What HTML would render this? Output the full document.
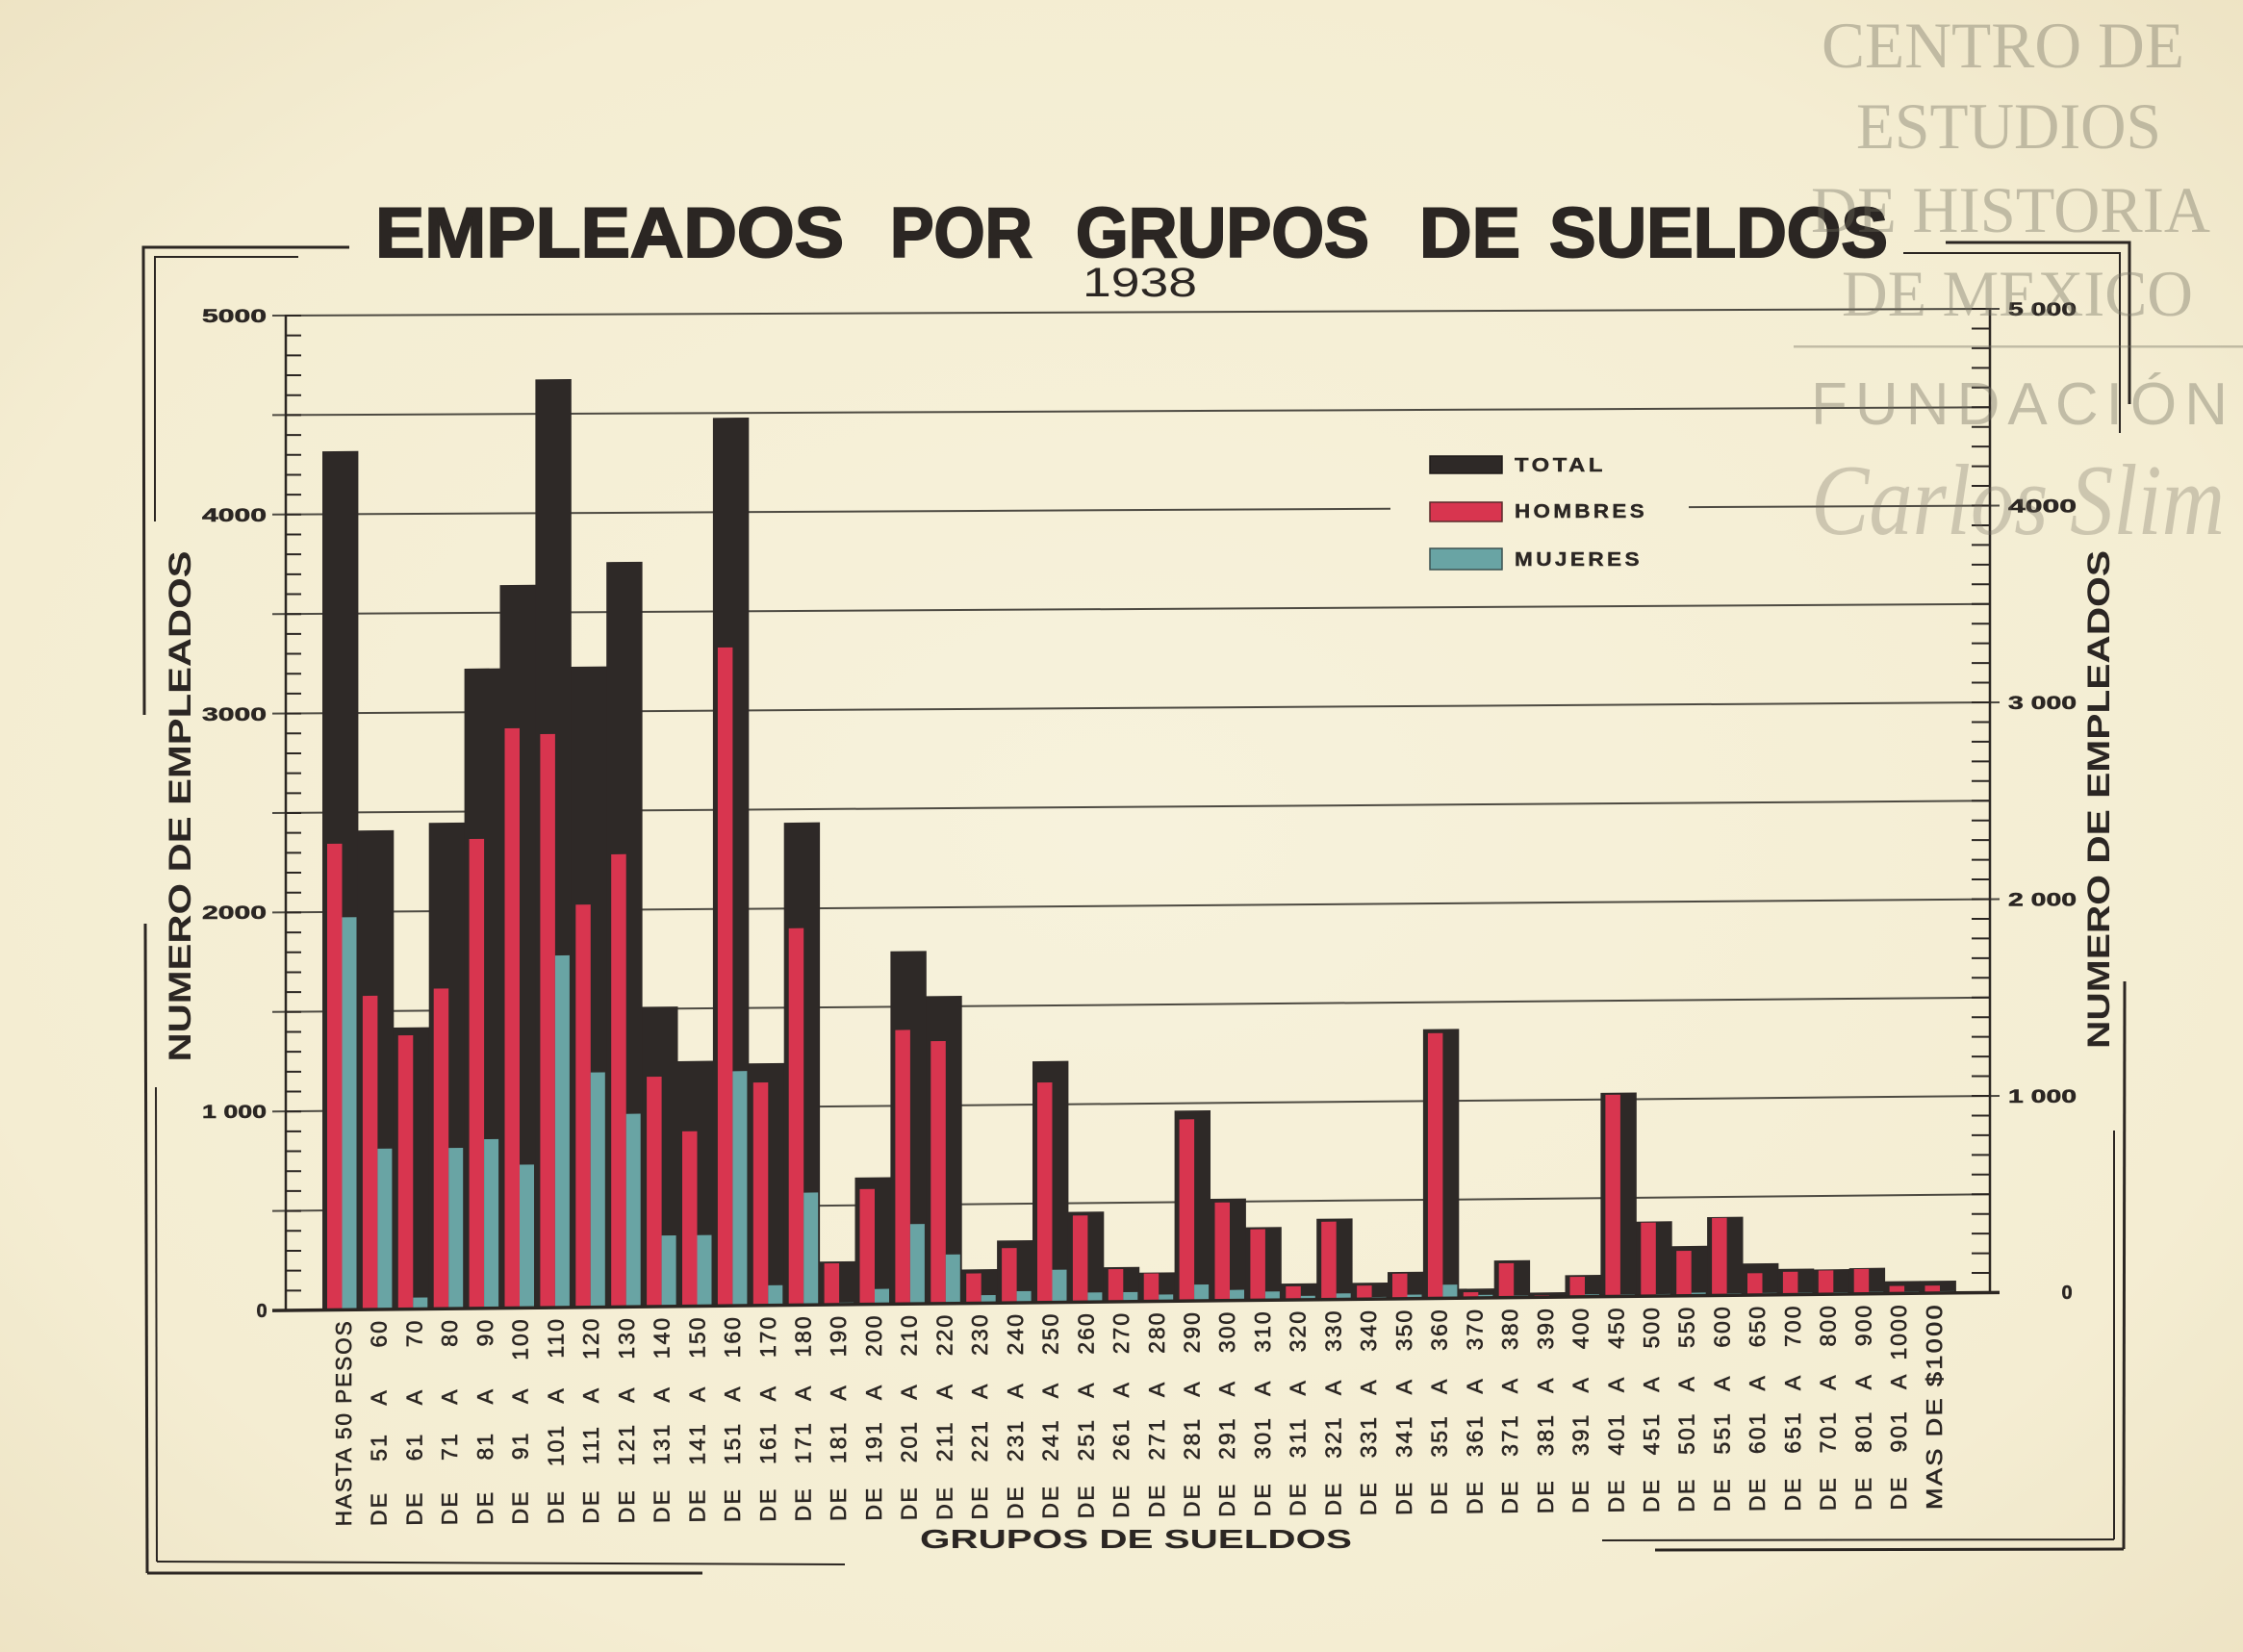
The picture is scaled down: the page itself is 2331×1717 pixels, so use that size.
<!DOCTYPE html>
<html><head><meta charset="utf-8"><title>Empleados por grupos de sueldos 1938</title>
<style>
html,body{margin:0;padding:0;background:#f5efd6;}
svg{display:block}
.b{fill:#2e2927}
.r{fill:#d8354f}
.t{fill:#69a4a4}
.lbl text{font-family:"Liberation Sans",sans-serif;font-size:23px;fill:#2b2623;stroke:#2b2623;stroke-width:0.6;letter-spacing:2px}
.m{text-anchor:middle}
.e{text-anchor:end}
.ax{font-family:"Liberation Sans",sans-serif;font-weight:bold;fill:#2b2623}
.wm{fill:#6f6b5d;fill-opacity:0.38}
.fr{stroke:#2b2622;fill:none}
.g{stroke:#4d4a42;stroke-width:2}
</style></head>
<body>
<svg width="2331" height="1717" viewBox="0 0 2331 1717" xmlns="http://www.w3.org/2000/svg">
<defs>
<radialGradient id="bg" cx="50%" cy="50%" r="75%">
<stop offset="0" stop-color="#f7f2dc"/>
<stop offset="0.7" stop-color="#f4edd2"/>
<stop offset="1" stop-color="#ece1c1"/>
</radialGradient>
</defs>
<rect width="2331" height="1717" fill="url(#bg)"/>

<!-- Frame -->
<g class="fr">
<polyline points="363,257 149,257 150,743" stroke-width="3"/>
<line x1="151" y1="960" x2="153" y2="1635" stroke-width="3"/>
<line x1="153" y1="1635" x2="730" y2="1635" stroke-width="3"/>
<polyline points="310,267 161,267 161,542" stroke-width="2"/>
<line x1="162" y1="1130" x2="163" y2="1623" stroke-width="2"/>
<line x1="163" y1="1623" x2="878" y2="1626" stroke-width="2"/>
<polyline points="2022,252 2213,252 2213,420" stroke-width="3"/>
<polyline points="1978,263 2203,263 2203,450" stroke-width="2"/>
<line x1="2208" y1="1020" x2="2207" y2="1610" stroke-width="3"/>
<line x1="1720" y1="1611" x2="2207" y2="1610" stroke-width="3"/>
<line x1="2197" y1="1175" x2="2197" y2="1600" stroke-width="2"/>
<line x1="1665" y1="1601" x2="2197" y2="1600" stroke-width="2"/>
</g>

<!-- Title -->
<g font-family="'Liberation Sans',sans-serif" font-weight="bold" font-size="73" fill="#2b2623" stroke="#2b2623" stroke-width="2">
<text x="390" y="267" textLength="487" lengthAdjust="spacingAndGlyphs">EMPLEADOS</text>
<text x="925" y="267" textLength="148" lengthAdjust="spacingAndGlyphs">POR</text>
<text x="1118" y="267" textLength="305" lengthAdjust="spacingAndGlyphs">GRUPOS</text>
<text x="1475" y="267" textLength="105" lengthAdjust="spacingAndGlyphs">DE</text>
<text x="1610" y="267" textLength="352" lengthAdjust="spacingAndGlyphs">SUELDOS</text>
</g>
<text x="1125" y="308" font-family="'Liberation Sans',sans-serif" font-size="43" fill="#2b2623" textLength="119" lengthAdjust="spacingAndGlyphs">1938</text>

<!-- Gridlines -->
<g class="g">
<line x1="283" y1="1258.6" x2="2068" y2="1241.3"/>
<line x1="283" y1="1155.2" x2="2078" y2="1139.0"/>
<line x1="283" y1="1051.8" x2="2068" y2="1036.8"/>
<line x1="283" y1="948.4" x2="2078" y2="934.5"/>
<line x1="283" y1="845.0" x2="2068" y2="832.3"/>
<line x1="283" y1="741.6" x2="2078" y2="730.0"/>
<line x1="283" y1="638.2" x2="2068" y2="627.8"/>
<line x1="283" y1="534.8" x2="1445" y2="528.7"/>
<line x1="1755" y1="527.1" x2="2078" y2="525.5"/>
<line x1="283" y1="431.4" x2="2068" y2="423.3"/>
<line x1="283" y1="328.0" x2="2078" y2="321.0"/>
</g>

<!-- Axes -->
<line x1="297" y1="327" x2="297" y2="1363" stroke="#2b2622" stroke-width="2.5"/>
<line x1="305" y1="1363" x2="305" y2="326" stroke="#2b2622" stroke-width="16" stroke-dasharray="2 18.68"/>
<line x1="2068" y1="320" x2="2068" y2="1345" stroke="#2b2622" stroke-width="2.5"/>
<line x1="2058" y1="1344.5" x2="2058" y2="320" stroke="#2b2622" stroke-width="18" stroke-dasharray="2 18.45"/>

<!-- Tick labels -->
<g class="ax" font-size="19" stroke="#2b2623" stroke-width="0.5">
<text x="277" y="335" text-anchor="end" textLength="67" lengthAdjust="spacingAndGlyphs">5000</text>
<text x="277" y="542" text-anchor="end" textLength="67" lengthAdjust="spacingAndGlyphs">4000</text>
<text x="277" y="749" text-anchor="end" textLength="67" lengthAdjust="spacingAndGlyphs">3000</text>
<text x="277" y="955" text-anchor="end" textLength="67" lengthAdjust="spacingAndGlyphs">2000</text>
<text x="277" y="1162" text-anchor="end" textLength="67" lengthAdjust="spacingAndGlyphs">1 000</text>
<text x="272" y="1369" text-anchor="middle" font-size="20">0</text>
<text x="2087" y="328" textLength="71" lengthAdjust="spacingAndGlyphs">5 000</text>
<text x="2087" y="532.5" textLength="71" lengthAdjust="spacingAndGlyphs">4000</text>
<text x="2087" y="737" textLength="71" lengthAdjust="spacingAndGlyphs">3 000</text>
<text x="2087" y="941.5" textLength="71" lengthAdjust="spacingAndGlyphs">2 000</text>
<text x="2087" y="1146" textLength="71" lengthAdjust="spacingAndGlyphs">1 000</text>
<text x="2148" y="1350" text-anchor="middle" font-size="20">0</text>
</g>

<!-- Axis titles -->
<g class="ax" font-size="32">
<text transform="translate(198 838) rotate(-90)" text-anchor="middle" textLength="531" lengthAdjust="spacingAndGlyphs">NUMERO DE EMPLEADOS</text>
<text transform="translate(2192 831) rotate(-90)" text-anchor="middle" textLength="518" lengthAdjust="spacingAndGlyphs">NUMERO DE EMPLEADOS</text>
</g>
<text class="ax" x="956" y="1609" font-size="28" textLength="449" lengthAdjust="spacingAndGlyphs">GRUPOS DE SUELDOS</text>

<!-- Legend -->
<rect x="1486" y="474" width="75" height="18" fill="#2e2927" stroke="#1f1a18" stroke-width="1.5"/>
<rect x="1486" y="522" width="75" height="20" fill="#d8354f" stroke="#5a2a2a" stroke-width="1.5"/>
<rect x="1486" y="570" width="75" height="22" fill="#69a4a4" stroke="#3a5050" stroke-width="1.5"/>
<g class="ax" font-size="20" letter-spacing="3" stroke="#2b2623" stroke-width="0.4">
<text x="1574" y="490" textLength="95" lengthAdjust="spacingAndGlyphs">TOTAL</text>
<text x="1574" y="538" textLength="138" lengthAdjust="spacingAndGlyphs">HOMBRES</text>
<text x="1574" y="588" textLength="133" lengthAdjust="spacingAndGlyphs">MUJERES</text>
</g>

<!-- Skewed plot group (bars, baseline, category labels) -->
<g transform="matrix(1 -0.01049 0 1 0 3.126)">
<g><g transform="translate(335 0)"><rect class="b" y="469.5" width="37.4" height="893.5"/><rect class="r" x="5" y="877.5" width="15.5" height="485.5"/><rect class="t" x="20.5" y="954" width="15" height="409"/></g>
<g transform="translate(371.9 0)"><rect class="b" y="864" width="37.4" height="499"/><rect class="r" x="5" y="1035.9" width="15.5" height="327.1"/><rect class="t" x="20.5" y="1194.9" width="15" height="168.1"/></g>
<g transform="translate(408.8 0)"><rect class="b" y="1069.2" width="37.4" height="293.8"/><rect class="r" x="5" y="1077.4" width="15.5" height="285.6"/><rect class="t" x="20.5" y="1350" width="15" height="13"/></g>
<g transform="translate(445.7 0)"><rect class="b" y="856.8" width="37.4" height="506.2"/><rect class="r" x="5" y="1029.1" width="15.5" height="333.9"/><rect class="t" x="20.5" y="1194.9" width="15" height="168.1"/></g>
<g transform="translate(482.6 0)"><rect class="b" y="696.9" width="37.4" height="666.1"/><rect class="r" x="5" y="874" width="15.5" height="489"/><rect class="t" x="20.5" y="1186.2" width="15" height="176.8"/></g>
<g transform="translate(519.5 0)"><rect class="b" y="610.5" width="37.4" height="752.5"/><rect class="r" x="5" y="759.4" width="15.5" height="603.6"/><rect class="t" x="20.5" y="1213.1" width="15" height="149.9"/></g>
<g transform="translate(556.4 0)"><rect class="b" y="397.1" width="37.4" height="965.9"/><rect class="r" x="5" y="765.8" width="15.5" height="597.2"/><rect class="t" x="20.5" y="996" width="15" height="367"/></g>
<g transform="translate(593.3 0)"><rect class="b" y="696.1" width="37.4" height="666.9"/><rect class="r" x="5" y="943.4" width="15.5" height="419.6"/><rect class="t" x="20.5" y="1118" width="15" height="245"/></g>
<g transform="translate(630.2 0)"><rect class="b" y="587.7" width="37.4" height="775.3"/><rect class="r" x="5" y="891.5" width="15.5" height="471.5"/><rect class="t" x="20.5" y="1161.4" width="15" height="201.6"/></g>
<g transform="translate(667.1 0)"><rect class="b" y="1050.4" width="37.4" height="312.6"/><rect class="r" x="5" y="1123.1" width="15.5" height="239.9"/><rect class="t" x="20.5" y="1288.2" width="15" height="74.8"/></g>
<g transform="translate(704 0)"><rect class="b" y="1107.2" width="37.4" height="255.8"/><rect class="r" x="5" y="1180.2" width="15.5" height="182.8"/><rect class="t" x="20.5" y="1288.2" width="15" height="74.8"/></g>
<g transform="translate(740.9 0)"><rect class="b" y="439" width="37.4" height="924"/><rect class="r" x="5" y="677.7" width="15.5" height="685.3"/><rect class="t" x="20.5" y="1118.2" width="15" height="244.8"/></g>
<g transform="translate(777.8 0)"><rect class="b" y="1110.3" width="37.4" height="252.7"/><rect class="r" x="5" y="1130.2" width="15.5" height="232.8"/><rect class="t" x="20.5" y="1341.1" width="15" height="21.9"/></g>
<g transform="translate(814.7 0)"><rect class="b" y="860.5" width="37.4" height="502.5"/><rect class="r" x="5" y="970.3" width="15.5" height="392.7"/><rect class="t" x="20.5" y="1245.2" width="15" height="117.8"/></g>
<g transform="translate(851.6 0)"><rect class="b" y="1317.1" width="37.4" height="45.9"/><rect class="r" x="5" y="1319" width="15.5" height="44"/><rect class="t" x="20.5" y="1359.9" width="15" height="3.1"/></g>
<g transform="translate(888.5 0)"><rect class="b" y="1230.1" width="37.4" height="132.9"/><rect class="r" x="5" y="1242.1" width="15.5" height="120.9"/><rect class="t" x="20.5" y="1346.1" width="15" height="16.9"/></g>
<g transform="translate(925.4 0)"><rect class="b" y="995.3" width="37.4" height="367.7"/><rect class="r" x="5" y="1077.2" width="15.5" height="285.8"/><rect class="t" x="20.5" y="1279.1" width="15" height="83.9"/></g>
<g transform="translate(962.3 0)"><rect class="b" y="1042.3" width="37.4" height="320.7"/><rect class="r" x="5" y="1089.2" width="15.5" height="273.8"/><rect class="t" x="20.5" y="1311.1" width="15" height="51.9"/></g>
<g transform="translate(999.2 0)"><rect class="b" y="1326.8" width="37.4" height="36.2"/><rect class="r" x="5" y="1331" width="15.5" height="32"/><rect class="t" x="20.5" y="1353.7" width="15" height="9.3"/></g>
<g transform="translate(1036.1 0)"><rect class="b" y="1297.1" width="37.4" height="65.9"/><rect class="r" x="5" y="1305.1" width="15.5" height="57.9"/><rect class="t" x="20.5" y="1350" width="15" height="13"/></g>
<g transform="translate(1073 0)"><rect class="b" y="1111.2" width="37.4" height="251.8"/><rect class="r" x="5" y="1133.3" width="15.5" height="229.7"/><rect class="t" x="20.5" y="1328.1" width="15" height="34.9"/></g>
<g transform="translate(1109.9 0)"><rect class="b" y="1268.1" width="37.4" height="94.9"/><rect class="r" x="5" y="1272" width="15.5" height="91"/><rect class="t" x="20.5" y="1352.1" width="15" height="10.9"/></g>
<g transform="translate(1146.8 0)"><rect class="b" y="1326" width="37.4" height="37"/><rect class="r" x="5" y="1328.1" width="15.5" height="34.9"/><rect class="t" x="20.5" y="1352.1" width="15" height="10.9"/></g>
<g transform="translate(1183.7 0)"><rect class="b" y="1332" width="37.4" height="31"/><rect class="r" x="5" y="1333" width="15.5" height="30"/><rect class="t" x="20.5" y="1355" width="15" height="8"/></g>
<g transform="translate(1220.6 0)"><rect class="b" y="1164.1" width="37.4" height="198.9"/><rect class="r" x="5" y="1173.2" width="15.5" height="189.8"/><rect class="t" x="20.5" y="1345" width="15" height="18"/></g>
<g transform="translate(1257.5 0)"><rect class="b" y="1256.1" width="37.4" height="106.9"/><rect class="r" x="5" y="1260" width="15.5" height="103"/><rect class="t" x="20.5" y="1351" width="15" height="12"/></g>
<g transform="translate(1294.4 0)"><rect class="b" y="1286.1" width="37.4" height="76.9"/><rect class="r" x="5" y="1288.2" width="15.5" height="74.8"/><rect class="t" x="20.5" y="1353.1" width="15" height="9.9"/></g>
<g transform="translate(1331.3 0)"><rect class="b" y="1345" width="37.4" height="18"/><rect class="r" x="5" y="1347.9" width="15.5" height="15.1"/><rect class="t" x="20.5" y="1357.9" width="15" height="5.1"/></g>
<g transform="translate(1368.2 0)"><rect class="b" y="1278" width="37.4" height="85"/><rect class="r" x="5" y="1281.1" width="15.5" height="81.9"/><rect class="t" x="20.5" y="1355.8" width="15" height="7.2"/></g>
<g transform="translate(1405.1 0)"><rect class="b" y="1345" width="37.4" height="18"/><rect class="r" x="5" y="1347.9" width="15.5" height="15.1"/><rect class="t" x="20.5" y="1359.9" width="15" height="3.1"/></g>
<g transform="translate(1442 0)"><rect class="b" y="1334.1" width="37.4" height="28.9"/><rect class="r" x="5" y="1335.9" width="15.5" height="27.1"/><rect class="t" x="20.5" y="1357.9" width="15" height="5.1"/></g>
<g transform="translate(1478.9 0)"><rect class="b" y="1082.2" width="37.4" height="280.8"/><rect class="r" x="5" y="1086.3" width="15.5" height="276.7"/><rect class="t" x="20.5" y="1347.9" width="15" height="15.1"/></g>
<g transform="translate(1515.8 0)"><rect class="b" y="1352.3" width="37.4" height="10.7"/><rect class="r" x="5" y="1356" width="15.5" height="7"/><rect class="t" x="20.5" y="1358.9" width="15" height="4.1"/></g>
<g transform="translate(1552.7 0)"><rect class="b" y="1323.3" width="37.4" height="39.7"/><rect class="r" x="5" y="1326.2" width="15.5" height="36.8"/><rect class="t" x="20.5" y="1359.9" width="15" height="3.1"/></g>
<g transform="translate(1589.6 0)"><rect class="b" y="1357" width="37.4" height="6"/><rect class="r" x="5" y="1359.9" width="15.5" height="3.1"/></g>
<g transform="translate(1626.5 0)"><rect class="b" y="1339.3" width="37.4" height="23.7"/><rect class="r" x="5" y="1341.1" width="15.5" height="21.9"/><rect class="t" x="20.5" y="1359.5" width="15" height="3.5"/></g>
<g transform="translate(1663.4 0)"><rect class="b" y="1150.2" width="37.4" height="212.8"/><rect class="r" x="5" y="1152.3" width="15.5" height="210.7"/><rect class="t" x="20.5" y="1359.9" width="15" height="3.1"/></g>
<g transform="translate(1700.3 0)"><rect class="b" y="1284.4" width="37.4" height="78.6"/><rect class="r" x="5" y="1285.5" width="15.5" height="77.5"/><rect class="t" x="20.5" y="1360" width="15" height="3"/></g>
<g transform="translate(1737.2 0)"><rect class="b" y="1310.3" width="37.4" height="52.7"/><rect class="r" x="5" y="1315.3" width="15.5" height="47.7"/><rect class="t" x="20.5" y="1358.9" width="15" height="4.1"/></g>
<g transform="translate(1774.1 0)"><rect class="b" y="1280.5" width="37.4" height="82.5"/><rect class="r" x="5" y="1281.5" width="15.5" height="81.5"/><rect class="t" x="20.5" y="1360" width="15" height="3"/></g>
<g transform="translate(1811 0)"><rect class="b" y="1329.1" width="37.4" height="33.9"/><rect class="r" x="5" y="1339.3" width="15.5" height="23.7"/><rect class="t" x="20.5" y="1360" width="15" height="3"/></g>
<g transform="translate(1847.9 0)"><rect class="b" y="1335.1" width="37.4" height="27.9"/><rect class="r" x="5" y="1338.2" width="15.5" height="24.8"/><rect class="t" x="20.5" y="1360" width="15" height="3"/></g>
<g transform="translate(1884.8 0)"><rect class="b" y="1336.1" width="37.4" height="26.9"/><rect class="r" x="5" y="1337.2" width="15.5" height="25.8"/><rect class="t" x="20.5" y="1360" width="15" height="3"/></g>
<g transform="translate(1921.7 0)"><rect class="b" y="1335.1" width="37.4" height="27.9"/><rect class="r" x="5" y="1336.1" width="15.5" height="26.9"/><rect class="t" x="20.5" y="1360" width="15" height="3"/></g>
<g transform="translate(1958.6 0)"><rect class="b" y="1349.2" width="37.4" height="13.8"/><rect class="r" x="5" y="1354.1" width="15.5" height="8.9"/><rect class="t" x="20.5" y="1360" width="15" height="3"/></g>
<g transform="translate(1995.5 0)"><rect class="b" y="1349.2" width="37.4" height="13.8"/><rect class="r" x="5" y="1354.1" width="15.5" height="8.9"/><rect class="t" x="20.5" y="1360" width="15" height="3"/></g>
</g>

<line x1="283" y1="1362" x2="2078" y2="1362" stroke="#2b2622" stroke-width="3.5"/>

<g class="lbl">
<g transform="translate(365 0) rotate(-90)"><text x="-1587" textLength="215" lengthAdjust="spacingAndGlyphs">HASTA 50 PESOS</text></g>
<g transform="translate(401.7 0) rotate(-90)"><text x="-1587">DE</text><text class="m" x="-1505">51</text><text class="m" x="-1453">A</text><text class="e" x="-1372">60</text></g>
<g transform="translate(438.5 0) rotate(-90)"><text x="-1587">DE</text><text class="m" x="-1505">61</text><text class="m" x="-1453">A</text><text class="e" x="-1372">70</text></g>
<g transform="translate(475.2 0) rotate(-90)"><text x="-1587">DE</text><text class="m" x="-1505">71</text><text class="m" x="-1453">A</text><text class="e" x="-1372">80</text></g>
<g transform="translate(511.9 0) rotate(-90)"><text x="-1587">DE</text><text class="m" x="-1505">81</text><text class="m" x="-1453">A</text><text class="e" x="-1372">90</text></g>
<g transform="translate(548.7 0) rotate(-90)"><text x="-1587">DE</text><text class="m" x="-1505">91</text><text class="m" x="-1453">A</text><text class="e" x="-1372">100</text></g>
<g transform="translate(585.4 0) rotate(-90)"><text x="-1587">DE</text><text class="m" x="-1505">101</text><text class="m" x="-1453">A</text><text class="e" x="-1372">110</text></g>
<g transform="translate(622.1 0) rotate(-90)"><text x="-1587">DE</text><text class="m" x="-1505">111</text><text class="m" x="-1453">A</text><text class="e" x="-1372">120</text></g>
<g transform="translate(658.8 0) rotate(-90)"><text x="-1587">DE</text><text class="m" x="-1505">121</text><text class="m" x="-1453">A</text><text class="e" x="-1372">130</text></g>
<g transform="translate(695.6 0) rotate(-90)"><text x="-1587">DE</text><text class="m" x="-1505">131</text><text class="m" x="-1453">A</text><text class="e" x="-1372">140</text></g>
<g transform="translate(732.3 0) rotate(-90)"><text x="-1587">DE</text><text class="m" x="-1505">141</text><text class="m" x="-1453">A</text><text class="e" x="-1372">150</text></g>
<g transform="translate(769 0) rotate(-90)"><text x="-1587">DE</text><text class="m" x="-1505">151</text><text class="m" x="-1453">A</text><text class="e" x="-1372">160</text></g>
<g transform="translate(805.8 0) rotate(-90)"><text x="-1587">DE</text><text class="m" x="-1505">161</text><text class="m" x="-1453">A</text><text class="e" x="-1372">170</text></g>
<g transform="translate(842.5 0) rotate(-90)"><text x="-1587">DE</text><text class="m" x="-1505">171</text><text class="m" x="-1453">A</text><text class="e" x="-1372">180</text></g>
<g transform="translate(879.2 0) rotate(-90)"><text x="-1587">DE</text><text class="m" x="-1505">181</text><text class="m" x="-1453">A</text><text class="e" x="-1372">190</text></g>
<g transform="translate(915.9 0) rotate(-90)"><text x="-1587">DE</text><text class="m" x="-1505">191</text><text class="m" x="-1453">A</text><text class="e" x="-1372">200</text></g>
<g transform="translate(952.7 0) rotate(-90)"><text x="-1587">DE</text><text class="m" x="-1505">201</text><text class="m" x="-1453">A</text><text class="e" x="-1372">210</text></g>
<g transform="translate(989.4 0) rotate(-90)"><text x="-1587">DE</text><text class="m" x="-1505">211</text><text class="m" x="-1453">A</text><text class="e" x="-1372">220</text></g>
<g transform="translate(1026.1 0) rotate(-90)"><text x="-1587">DE</text><text class="m" x="-1505">221</text><text class="m" x="-1453">A</text><text class="e" x="-1372">230</text></g>
<g transform="translate(1062.9 0) rotate(-90)"><text x="-1587">DE</text><text class="m" x="-1505">231</text><text class="m" x="-1453">A</text><text class="e" x="-1372">240</text></g>
<g transform="translate(1099.6 0) rotate(-90)"><text x="-1587">DE</text><text class="m" x="-1505">241</text><text class="m" x="-1453">A</text><text class="e" x="-1372">250</text></g>
<g transform="translate(1136.3 0) rotate(-90)"><text x="-1587">DE</text><text class="m" x="-1505">251</text><text class="m" x="-1453">A</text><text class="e" x="-1372">260</text></g>
<g transform="translate(1173.1 0) rotate(-90)"><text x="-1587">DE</text><text class="m" x="-1505">261</text><text class="m" x="-1453">A</text><text class="e" x="-1372">270</text></g>
<g transform="translate(1209.8 0) rotate(-90)"><text x="-1587">DE</text><text class="m" x="-1505">271</text><text class="m" x="-1453">A</text><text class="e" x="-1372">280</text></g>
<g transform="translate(1246.5 0) rotate(-90)"><text x="-1587">DE</text><text class="m" x="-1505">281</text><text class="m" x="-1453">A</text><text class="e" x="-1372">290</text></g>
<g transform="translate(1283.2 0) rotate(-90)"><text x="-1587">DE</text><text class="m" x="-1505">291</text><text class="m" x="-1453">A</text><text class="e" x="-1372">300</text></g>
<g transform="translate(1320 0) rotate(-90)"><text x="-1587">DE</text><text class="m" x="-1505">301</text><text class="m" x="-1453">A</text><text class="e" x="-1372">310</text></g>
<g transform="translate(1356.7 0) rotate(-90)"><text x="-1587">DE</text><text class="m" x="-1505">311</text><text class="m" x="-1453">A</text><text class="e" x="-1372">320</text></g>
<g transform="translate(1393.4 0) rotate(-90)"><text x="-1587">DE</text><text class="m" x="-1505">321</text><text class="m" x="-1453">A</text><text class="e" x="-1372">330</text></g>
<g transform="translate(1430.2 0) rotate(-90)"><text x="-1587">DE</text><text class="m" x="-1505">331</text><text class="m" x="-1453">A</text><text class="e" x="-1372">340</text></g>
<g transform="translate(1466.9 0) rotate(-90)"><text x="-1587">DE</text><text class="m" x="-1505">341</text><text class="m" x="-1453">A</text><text class="e" x="-1372">350</text></g>
<g transform="translate(1503.6 0) rotate(-90)"><text x="-1587">DE</text><text class="m" x="-1505">351</text><text class="m" x="-1453">A</text><text class="e" x="-1372">360</text></g>
<g transform="translate(1540.4 0) rotate(-90)"><text x="-1587">DE</text><text class="m" x="-1505">361</text><text class="m" x="-1453">A</text><text class="e" x="-1372">370</text></g>
<g transform="translate(1577.1 0) rotate(-90)"><text x="-1587">DE</text><text class="m" x="-1505">371</text><text class="m" x="-1453">A</text><text class="e" x="-1372">380</text></g>
<g transform="translate(1613.8 0) rotate(-90)"><text x="-1587">DE</text><text class="m" x="-1505">381</text><text class="m" x="-1453">A</text><text class="e" x="-1372">390</text></g>
<g transform="translate(1650.5 0) rotate(-90)"><text x="-1587">DE</text><text class="m" x="-1505">391</text><text class="m" x="-1453">A</text><text class="e" x="-1372">400</text></g>
<g transform="translate(1687.3 0) rotate(-90)"><text x="-1587">DE</text><text class="m" x="-1505">401</text><text class="m" x="-1453">A</text><text class="e" x="-1372">450</text></g>
<g transform="translate(1724 0) rotate(-90)"><text x="-1587">DE</text><text class="m" x="-1505">451</text><text class="m" x="-1453">A</text><text class="e" x="-1372">500</text></g>
<g transform="translate(1760.7 0) rotate(-90)"><text x="-1587">DE</text><text class="m" x="-1505">501</text><text class="m" x="-1453">A</text><text class="e" x="-1372">550</text></g>
<g transform="translate(1797.5 0) rotate(-90)"><text x="-1587">DE</text><text class="m" x="-1505">551</text><text class="m" x="-1453">A</text><text class="e" x="-1372">600</text></g>
<g transform="translate(1834.2 0) rotate(-90)"><text x="-1587">DE</text><text class="m" x="-1505">601</text><text class="m" x="-1453">A</text><text class="e" x="-1372">650</text></g>
<g transform="translate(1870.9 0) rotate(-90)"><text x="-1587">DE</text><text class="m" x="-1505">651</text><text class="m" x="-1453">A</text><text class="e" x="-1372">700</text></g>
<g transform="translate(1907.7 0) rotate(-90)"><text x="-1587">DE</text><text class="m" x="-1505">701</text><text class="m" x="-1453">A</text><text class="e" x="-1372">800</text></g>
<g transform="translate(1944.4 0) rotate(-90)"><text x="-1587">DE</text><text class="m" x="-1505">801</text><text class="m" x="-1453">A</text><text class="e" x="-1372">900</text></g>
<g transform="translate(1981.1 0) rotate(-90)"><text x="-1587">DE</text><text class="m" x="-1505">901</text><text class="m" x="-1453">A</text><text class="e" x="-1372">1000</text></g>
<g transform="translate(2017.8 0) rotate(-90)"><text x="-1587" textLength="215" lengthAdjust="spacingAndGlyphs">MAS DE $1000</text></g>
</g>
</g>

<!-- Watermark -->
<g class="wm">
<g font-family="'Liberation Serif',serif" font-size="68">
<text x="1893" y="70" textLength="377" lengthAdjust="spacingAndGlyphs">CENTRO DE</text>
<text x="1929" y="154" textLength="317" lengthAdjust="spacingAndGlyphs">ESTUDIOS</text>
<text x="1882" y="241" textLength="415" lengthAdjust="spacingAndGlyphs">DE HISTORIA</text>
<text x="1914" y="328" textLength="365" lengthAdjust="spacingAndGlyphs">DE MEXICO</text>
</g>
<rect x="1864" y="359" width="467" height="2.5"/>
<text x="1882" y="441" font-family="'Liberation Sans',sans-serif" font-size="62" textLength="433" lengthAdjust="spacing">FUNDACIÓN</text>
<text x="1882" y="555" font-family="'Liberation Serif',serif" font-style="italic" font-size="105" fill-opacity="0.3" textLength="430" lengthAdjust="spacingAndGlyphs">Carlos Slim</text>
</g>
</svg>
</body></html>
